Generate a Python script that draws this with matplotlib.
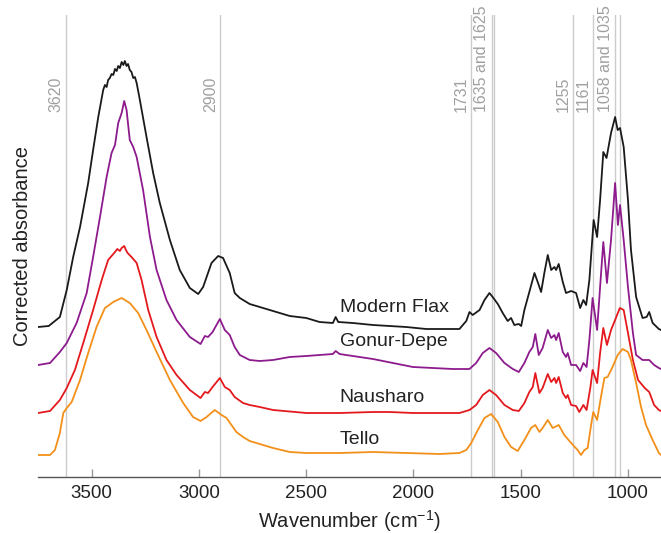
import numpy as np
import matplotlib
matplotlib.use('Agg')
import matplotlib.pyplot as plt
import matplotlib.transforms as mtransforms

plt.rcParams['font.family'] = ['Liberation Sans', 'DejaVu Sans']
plt.rcParams['mathtext.fontset'] = 'custom'
plt.rcParams['mathtext.rm'] = 'Liberation Sans'
plt.rcParams['mathtext.default'] = 'regular'

# spectra, (wavenumber, stacked absorbance in arbitrary units)
modern_flax = [
    (3750, 150), (3700, 151), (3648, 160), (3616, 187), (3586, 220), (3554, 250),
    (3516, 294), (3493, 327), (3469, 360), (3446, 387), (3438, 392), (3430, 390),
    (3423, 397), (3415, 399), (3407, 403), (3399, 402), (3391, 408), (3383, 406),
    (3376, 411), (3368, 409), (3360, 415), (3352, 412), (3345, 416), (3337, 411),
    (3330, 413), (3322, 407), (3314, 405), (3306, 399), (3298, 400), (3290, 394),
    (3275, 377), (3244, 340), (3213, 304), (3182, 274), (3135, 237), (3089, 207),
    (3042, 189), (3003, 183), (2980, 190), (2941, 214), (2910, 221), (2887, 219),
    (2856, 204), (2833, 184), (2809, 179), (2763, 173), (2716, 170), (2654, 166),
    (2576, 161), (2499, 159), (2437, 155), (2375, 154), (2362, 160), (2350, 155),
    (2282, 154), (2188, 152), (2111, 151), (2033, 150), (1940, 148), (1847, 148),
    (1785, 148), (1753, 156), (1738, 165), (1723, 162), (1691, 167), (1668, 177),
    (1645, 184), (1630, 180), (1606, 173), (1583, 164), (1560, 156), (1544, 159),
    (1529, 152), (1508, 153), (1497, 151), (1482, 167), (1459, 185), (1435, 204),
    (1420, 195), (1404, 185), (1389, 204), (1373, 222), (1357, 207), (1342, 210),
    (1334, 207), (1322, 213), (1303, 195), (1288, 184), (1264, 186), (1241, 184),
    (1222, 169), (1207, 177), (1194, 172), (1179, 197), (1159, 257), (1143, 240),
    (1129, 277), (1114, 325), (1099, 319), (1078, 344), (1059, 360), (1047, 347),
    (1036, 349), (1019, 330), (999, 277), (985, 227), (961, 180), (931, 159),
    (912, 160), (900, 165), (884, 154), (855, 148), (845, 147),
]

gonur_depe = [
    (3750, 112), (3694, 114), (3648, 125), (3616, 134), (3570, 154), (3523, 184),
    (3493, 220), (3461, 260), (3430, 300), (3407, 324), (3391, 332), (3376, 354),
    (3360, 364), (3348, 376), (3337, 367), (3322, 337), (3306, 330), (3290, 320),
    (3260, 287), (3228, 240), (3197, 207), (3151, 177), (3104, 157), (3042, 140),
    (2992, 133), (2972, 141), (2957, 140), (2936, 145), (2902, 158), (2879, 147),
    (2856, 142), (2833, 130), (2809, 122), (2763, 117), (2716, 116), (2654, 117),
    (2576, 120), (2499, 121), (2437, 122), (2375, 123), (2362, 126), (2344, 123),
    (2282, 121), (2188, 118), (2095, 114), (2002, 110), (1909, 109), (1816, 108),
    (1738, 108), (1707, 114), (1676, 124), (1645, 129), (1614, 124), (1575, 114),
    (1536, 108), (1508, 105), (1482, 114), (1459, 125), (1443, 130), (1431, 143),
    (1415, 122), (1397, 129), (1373, 147), (1357, 139), (1342, 142), (1334, 137),
    (1322, 144), (1303, 125), (1288, 120), (1280, 124), (1264, 112), (1241, 112),
    (1222, 106), (1207, 114), (1192, 110), (1179, 137), (1164, 179), (1143, 147),
    (1129, 190), (1114, 235), (1097, 194), (1078, 237), (1059, 294), (1046, 252),
    (1036, 272), (1019, 237), (999, 190), (976, 144), (961, 122), (931, 117),
    (900, 117), (877, 112), (855, 109), (845, 108),
]

nausharo = [
    (3750, 64), (3694, 66), (3648, 77), (3616, 89), (3578, 107), (3539, 134),
    (3493, 167), (3453, 197), (3423, 217), (3391, 225), (3380, 228), (3368, 226),
    (3360, 229), (3348, 231), (3340, 227), (3332, 224), (3314, 220), (3290, 214),
    (3267, 197), (3236, 167), (3197, 140), (3151, 117), (3104, 102), (3042, 87),
    (2992, 79), (2972, 85), (2957, 84), (2936, 90), (2902, 99), (2879, 90),
    (2856, 87), (2833, 80), (2794, 74), (2763, 72), (2716, 70), (2654, 67),
    (2499, 64), (2344, 64), (2188, 65), (2111, 65), (2002, 64), (1878, 64),
    (1785, 64), (1738, 67), (1707, 72), (1676, 82), (1645, 87), (1614, 82),
    (1575, 72), (1536, 67), (1508, 66), (1482, 74), (1459, 85), (1443, 90),
    (1431, 104), (1412, 84), (1397, 89), (1373, 103), (1357, 95), (1342, 99),
    (1334, 94), (1322, 100), (1303, 84), (1288, 79), (1280, 82), (1264, 72),
    (1241, 71), (1226, 65), (1207, 72), (1192, 67), (1174, 90), (1164, 107),
    (1143, 94), (1129, 124), (1114, 149), (1097, 132), (1078, 147), (1059, 157),
    (1037, 169), (1019, 167), (999, 144), (976, 117), (952, 97), (921, 89),
    (900, 85), (877, 72), (855, 67), (845, 66),
]

tello = [
    (3750, 22), (3694, 22), (3671, 27), (3648, 44), (3632, 64), (3616, 69),
    (3593, 75), (3554, 97), (3516, 124), (3477, 150), (3438, 169), (3399, 175),
    (3380, 177), (3360, 179), (3345, 177), (3322, 174), (3283, 164), (3244, 147),
    (3197, 125), (3135, 97), (3073, 74), (3027, 60), (2992, 56), (2964, 60),
    (2926, 67), (2894, 62), (2871, 59), (2848, 52), (2825, 45), (2794, 40),
    (2763, 36), (2654, 29), (2576, 25), (2499, 24), (2344, 24), (2188, 25),
    (2033, 24), (1878, 23), (1785, 24), (1753, 27), (1730, 34), (1699, 47),
    (1668, 59), (1637, 63), (1606, 55), (1575, 40), (1544, 30), (1513, 26),
    (1482, 37), (1451, 49), (1431, 52), (1412, 45), (1397, 49), (1373, 57),
    (1350, 49), (1322, 52), (1296, 42), (1264, 34), (1234, 27), (1218, 22),
    (1202, 27), (1187, 29), (1171, 52), (1161, 65), (1143, 57), (1125, 80),
    (1109, 99), (1094, 100), (1071, 110), (1047, 122), (1024, 128), (999, 125),
    (985, 117), (961, 94), (938, 70), (915, 52), (884, 37), (855, 24), (845, 22),
]

series_names = ['Modern Flax', 'Gonur-Depe', 'Nausharo', 'Tello']
series_colors = ['#1a1a1a', '#8d1b8d', '#e4191d', '#f39019']
label_heights = [170, 136, 80, 38]

band_positions = [3620, 2900, 1731, 1635, 1625, 1255, 1161, 1058, 1035]
band_labels = {3620: '3620', 2900: '2900', 1731: '1731', 1635: '1635 and 1625',
               1255: '1255', 1161: '1161', 1058: '1058 and 1035'}

fig = plt.figure(figsize=(6.61, 5.33), dpi=100)
ax = fig.add_axes([38 / 661, 56 / 533, 623 / 661, 462 / 533])

trans = mtransforms.blended_transform_factory(ax.transData, ax.transAxes)
for b in band_positions:
    ax.axvline(b, color='#cccccc', lw=1.0, zorder=1)
    if b in band_labels:
        ax.annotate(band_labels[b], xy=(b, 0.79), xycoords=trans,
                    xytext=(-1.5, 0), textcoords='offset points',
                    rotation=90, ha='right', va='bottom',
                    color='#a0a0a0', fontsize=11.5)

for data, name, c, lh in zip([modern_flax, gonur_depe, nausharo, tello],
                             series_names, series_colors, label_heights):
    wn, a = np.array(data).T
    ax.plot(wn, a, color=c, lw=1.3, zorder=3)
    ax.text(2343, lh, name, fontsize=14, color='#222222', va='center', ha='left', zorder=4)

ax.set_xlim(3750, 845)
ax.set_ylim(0, 462)
for s in ['top', 'right', 'left']:
    ax.spines[s].set_visible(False)
ax.spines['bottom'].set_color('#555555')
ax.spines['bottom'].set_linewidth(1.0)
ax.set_xticks([3500, 3000, 2500, 2000, 1500, 1000])
ax.tick_params(axis='x', direction='in', length=6, width=1, color='#999999',
               labelsize=13.5, labelcolor='#222222', pad=6)
ax.set_yticks([])
ax.set_xlabel('Wavenumber (cm$^{-1}$)', fontsize=14.5, color='#222222', labelpad=4)
ax.set_ylabel('Corrected absorbance', fontsize=14.5, color='#222222', labelpad=4)

fig.savefig('out.png', dpi=100)
